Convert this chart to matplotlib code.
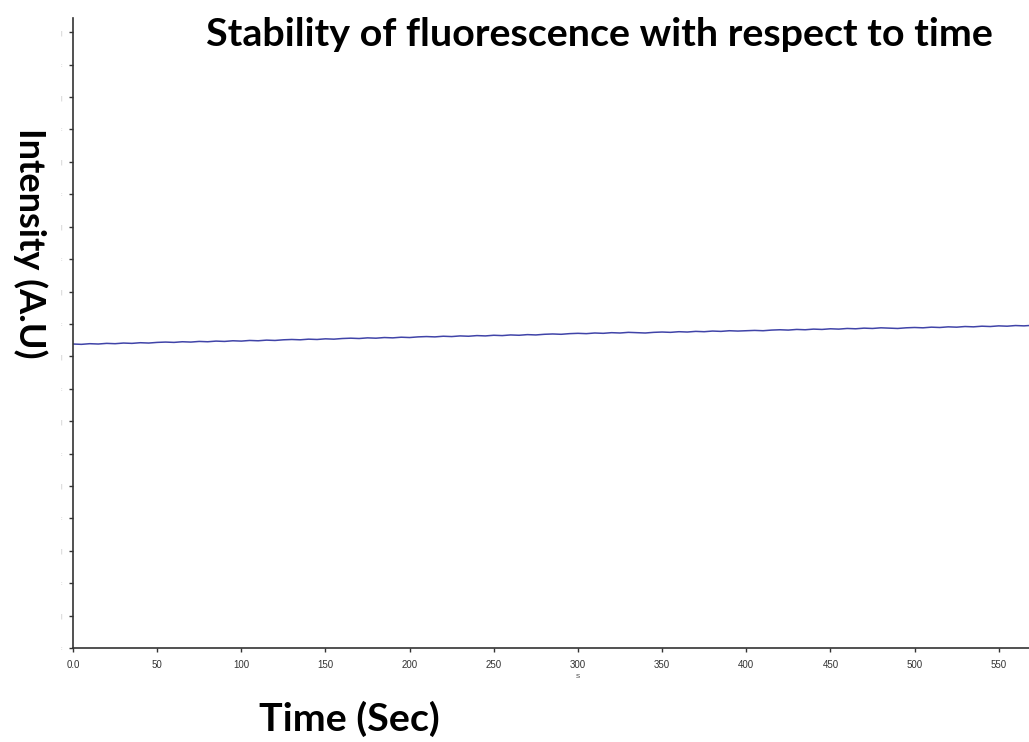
import matplotlib
matplotlib.use("Agg")
import matplotlib.pyplot as plt
import numpy as np

# ---- data ----
time_s = list(range(0, 570, 5)) + [568]
intensity = [
    9.38, 9.37, 9.39, 9.38, 9.40, 9.39, 9.41, 9.40, 9.42, 9.41,
    9.43, 9.44, 9.43, 9.45, 9.44, 9.46, 9.45, 9.47, 9.46, 9.48,
    9.47, 9.49, 9.48, 9.50, 9.49, 9.51, 9.52, 9.51, 9.53, 9.52,
    9.54, 9.53, 9.55, 9.56, 9.55, 9.57, 9.56, 9.58, 9.57, 9.59,
    9.58, 9.60, 9.61, 9.60, 9.62, 9.61, 9.63, 9.62, 9.64, 9.63,
    9.65, 9.64, 9.66, 9.65, 9.67, 9.66, 9.68, 9.69, 9.68, 9.70,
    9.71, 9.70, 9.72, 9.71, 9.73, 9.72, 9.74, 9.73, 9.72, 9.74,
    9.75, 9.74, 9.76, 9.75, 9.77, 9.76, 9.78, 9.77, 9.79, 9.78,
    9.79, 9.80, 9.79, 9.81, 9.82, 9.81, 9.83, 9.82, 9.84, 9.83,
    9.85, 9.84, 9.86, 9.85, 9.87, 9.86, 9.88, 9.87, 9.86, 9.88,
    9.89, 9.88, 9.90, 9.89, 9.91, 9.90, 9.92, 9.91, 9.93, 9.92,
    9.94, 9.93, 9.95, 9.94,
    9.95,
]
x_ticks = [0, 50, 100, 150, 200, 250, 300, 350, 400, 450, 500, 550]
x_tick_labels = ["0.0", "50", "100", "150", "200", "250", "300", "350", "400", "450", "500", "550"]
y_ticks = list(range(0, 20))
title = "Stability of fluorescence with respect to time"
xlabel = "Time (Sec)"
ylabel = "Intensity (A.U)"

fig = plt.figure(figsize=(10.29, 7.42), dpi=100)
ax = fig.add_axes([73/1029, 1 - 648/742, 1 - 73/1029, (648 - 18)/742])

ax.plot(time_s, intensity, color="#4044a8", linewidth=1.1)
ax.set_xlim(0, 568)
ax.set_ylim(0, 19.44)

ax.spines["top"].set_visible(False)
ax.spines["right"].set_visible(False)
for s in ("left", "bottom"):
    ax.spines[s].set_color("#333333")
    ax.spines[s].set_linewidth(1.2)

ax.set_xticks(x_ticks)
ax.set_xticklabels(x_tick_labels, fontsize=7, color="#333333", family="Liberation Sans")
ax.tick_params(axis="x", length=3, width=1, color="#333333", pad=6)

ax.set_yticks(y_ticks)
ax.set_yticklabels([":" if i % 2 == 0 else "|" for i in y_ticks], fontsize=3.5, color="#aaaaaa")
ax.tick_params(axis="y", length=3, width=1, color="#333333", pad=5)

fig.text(578/1029, 1 - 676/742, "s", fontsize=6, color="#555555", ha="center", va="center",
         family="Liberation Sans")

fig.text(599/1029, 1 - 34/742, title, fontsize=28.4, fontweight="bold", ha="center", va="center",
         family="Lato")
fig.text(349/1029, 1 - 719/742, xlabel, fontsize=28.4, fontweight="bold", ha="center", va="center",
         family="Lato")
fig.text(30/1029, 1 - 243/742, ylabel, fontsize=26, fontweight="bold", ha="center", va="center",
         rotation=270, family="Lato")

fig.savefig("out.png", dpi=100)
